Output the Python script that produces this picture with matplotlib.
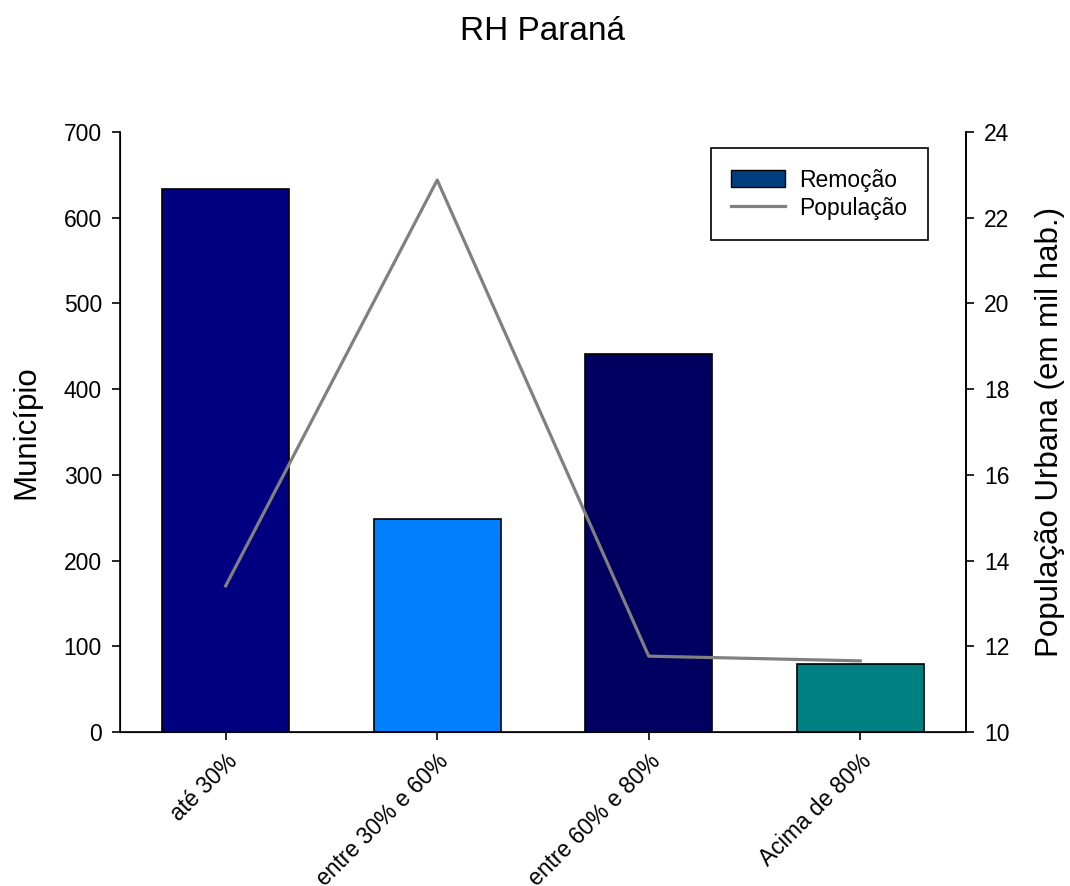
import matplotlib
matplotlib.use("Agg")
import matplotlib.pyplot as plt
from matplotlib.patches import Patch
from matplotlib.lines import Line2D

plt.rcParams['font.family'] = ['Liberation Sans', 'DejaVu Sans']

categories = ["até 30%", "entre 30% e 60%", "entre 60% e 80%", "Acima de 80%"]
remocao = [634, 249, 441, 79]
populacao = [13.41, 22.88, 11.77, 11.66]
bar_colors = ["#000080", "#0080FF", "#000060", "#008080"]

fig = plt.figure(figsize=(10.7, 8.86), dpi=100)
ax = fig.add_axes([0.1121, 0.1738, 0.7907, 0.6772])
x = list(range(len(categories)))
ax.bar(x, remocao, width=0.6, color=bar_colors, edgecolor="black", linewidth=1.2, zorder=2)
ax.set_xlim(-0.5, 3.5)
ax.set_ylim(0, 700)
ax.set_yticks(range(0, 701, 100))
ax.set_xticks(x)
ax.set_xticklabels(categories, rotation=45, ha="right", rotation_mode="anchor", fontsize=16.5)
ax.tick_params(axis="both", direction="out", labelsize=16.5, width=1.2, length=6, pad=7)
ax.set_ylabel("Município", fontsize=22.5, labelpad=16)
for s in ["left", "bottom", "right"]:
    ax.spines[s].set_linewidth(1.2)
ax.spines["top"].set_visible(False)

ax2 = ax.twinx()
ax2.plot(x, populacao, color="#808080", linewidth=2.3, zorder=3)
ax2.set_ylim(10, 24)
ax2.set_yticks(range(10, 25, 2))
ax2.tick_params(axis="y", direction="out", labelsize=16.5, width=1.2, length=6, pad=7)
ax2.set_ylabel("População Urbana (em mil hab.)", fontsize=22.5, labelpad=18)
ax2.spines["top"].set_visible(False)
ax2.spines["right"].set_linewidth(1.2)

handles = [Patch(facecolor="#003F7F", edgecolor="black", label="Remoção"),
           Line2D([0], [0], color="#808080", linewidth=2.3, label="População")]
leg = ax2.legend(handles=handles, loc="upper right", bbox_to_anchor=(0.955, 0.9733),
                 borderaxespad=0, fontsize=16.5, frameon=True, fancybox=False,
                 edgecolor="black", borderpad=0.9, handlelength=2.36, handleheight=0.8,
                 handletextpad=0.6, labelspacing=0.22, framealpha=1)
leg.get_frame().set_linewidth(1.2)

title_x = 0.1121 + 0.7907 / 2
fig.text(title_x, 1 - 31 / 886, "RH Paraná", fontsize=24, ha="center", va="center")
fig.savefig("out.png", dpi=100)
